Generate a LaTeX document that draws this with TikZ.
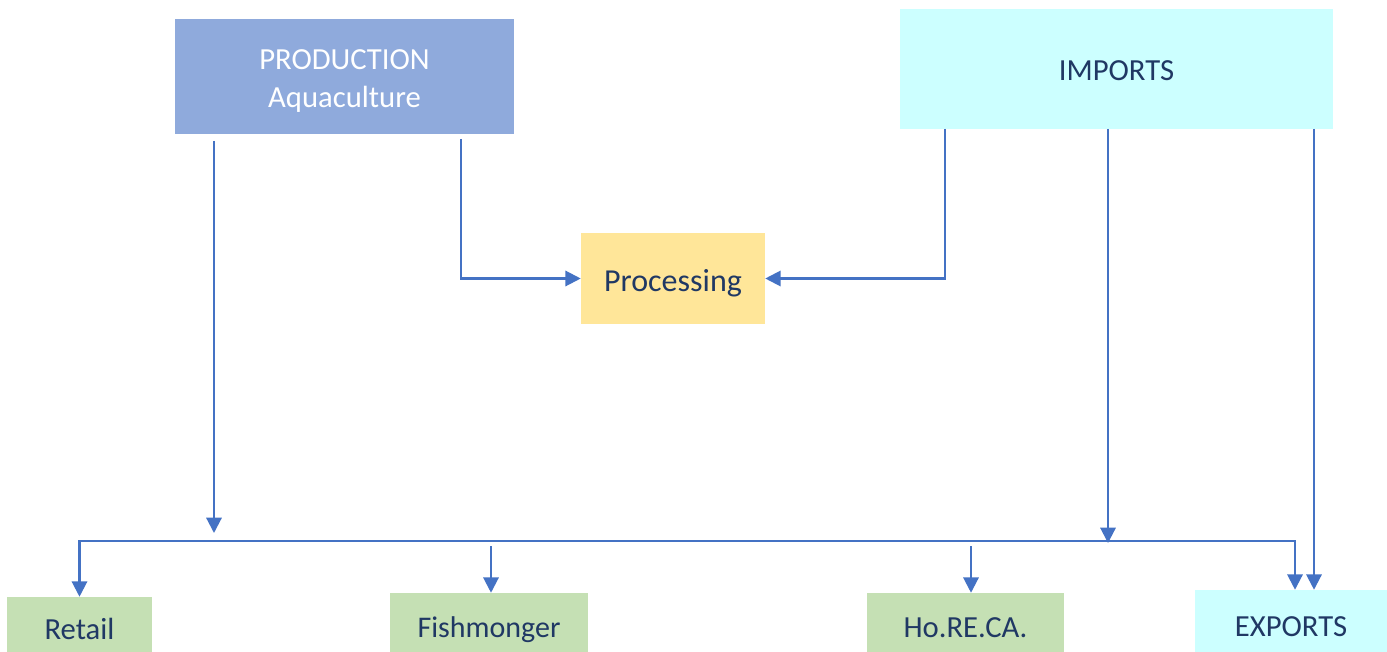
\documentclass[tikz,border=0pt]{standalone}
\usepackage{fontspec}
\setmainfont{Carlito}
\usetikzlibrary{arrows.meta}
\definecolor{prodfill}{HTML}{8FAADC}
\definecolor{procfill}{HTML}{FFE699}
\definecolor{cyanfill}{HTML}{CCFFFF}
\definecolor{greenfill}{HTML}{C5E0B4}
\definecolor{linecol}{HTML}{4472C4}
\definecolor{txtcol}{HTML}{203864}
\tikzset{
  box/.style={draw=none, rectangle, inner sep=0pt, text=txtcol,
    font=\fontsize{23}{29}\selectfont, align=center,
    text height=21pt, text depth=5pt},
  arr/.style={draw=linecol, line width=1.6pt, -{Triangle[length=11.5pt,width=11.5pt]}},
  arrboth/.style={draw=linecol, line width=1.6pt, {Triangle[length=11.5pt,width=11.5pt]}-{Triangle[length=11.5pt,width=11.5pt]}}
}
\begin{document}
\begin{tikzpicture}[x=0.75pt,y=-0.75pt]
\clip (0,0) rectangle (1387,652);
\fill[white] (0,0) rectangle (1387,652);
% boxes
\node[box, fill=prodfill, text=white, minimum width=254.25pt, minimum height=86.25pt,
  text height=52pt, text depth=5pt] (prod) at (344.5,76.5)
  {PRODUCTION\\Aquaculture};
\node[box, fill=procfill, minimum width=138pt, minimum height=68.25pt,
  font=\fontsize{24}{29}\selectfont, text height=25pt] (proc) at (673,278.5) {Processing};
\node[box, fill=cyanfill, minimum width=324.75pt, minimum height=90pt, text height=22pt] (imp) at (1116.5,69) {IMPORTS};
\node[box, fill=greenfill, minimum width=108.75pt, minimum height=48pt] (ret) at (79.5,629) {Retail};
\node[box, fill=greenfill, minimum width=148.5pt, minimum height=51pt,
  font=\fontsize{22.5}{29}\selectfont] (fish) at (489,627) {Fishmonger};
\node[box, fill=greenfill, minimum width=147.75pt, minimum height=51pt] (hor) at (965.5,627) {Ho.RE.CA.};
\node[box, fill=cyanfill, minimum width=144pt, minimum height=54pt] (exp) at (1291,626) {EXPORTS};
% free coordinates
\coordinate (a1) at (214,141);
\coordinate (a1e) at (214,533);
\coordinate (a2) at (461,139);
\coordinate (a3) at (945,129);
\coordinate (a4) at (1108,129);
\coordinate (a4e) at (1108,543);
\coordinate (a5) at (1314,129);
\coordinate (busr) at (1295,541);
\coordinate (f1) at (491,546);
\coordinate (h1) at (971,546);
% connectors
\draw[arr] (a1) -- (a1e);
\draw[arr] (a2) |- (proc.west);
\draw[arr] (a3) |- (proc.east);
\draw[arr] (a4) -- (a4e);
\draw[arr] (a5) -- (a5 |- exp.north);
\draw[arrboth] (ret.north) |- (busr) -- (busr |- exp.north);
\draw[arr] (f1) -- (f1 |- fish.north);
\draw[arr] (h1) -- (h1 |- hor.north);
\end{tikzpicture}
\end{document}
